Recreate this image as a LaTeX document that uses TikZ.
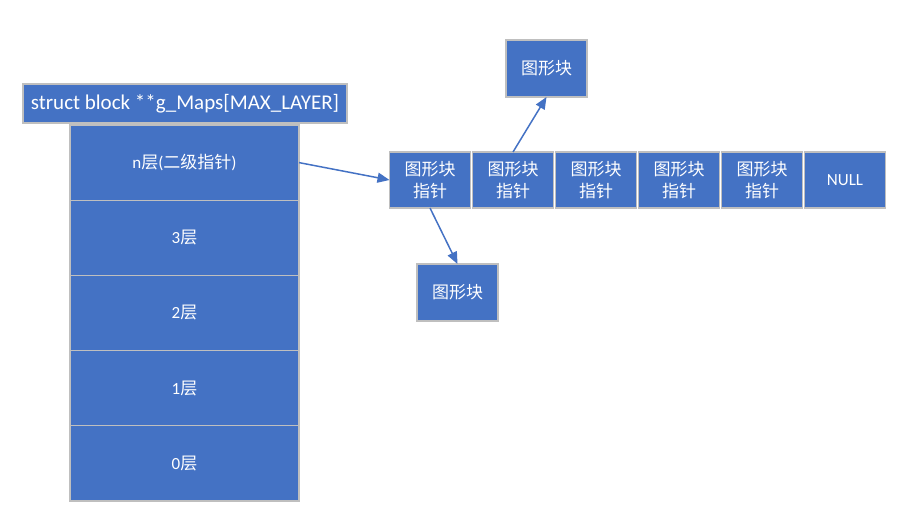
\documentclass[tikz,border=0pt]{standalone}
\usepackage{fontspec}
\setmainfont{Carlito}
\newfontfamily\cjk{Noto Sans CJK SC}
\usepackage{xcolor}
\usepackage{tikz}
\usetikzlibrary{arrows.meta, positioning}

\definecolor{blockblue}{HTML}{4472C4}
\definecolor{edgegray}{HTML}{BFBFBF}

\begin{document}
\begin{tikzpicture}[
    x=1pt, y=-1pt,
    node distance=2pt,
    cell/.style={rectangle, draw=edgegray, line width=1.3pt, outer sep=0pt, fill=blockblue, text=white, inner sep=0pt, align=center, font=\fontsize{17}{22}\selectfont},
    layer/.style={cell, minimum width=229pt, minimum height=75.2pt},
    ptr/.style={cell, minimum width=81pt, minimum height=56pt},
    arrow/.style={-{Triangle[length=12pt,width=10pt]}, line width=1.5pt, draw=blockblue}
]
\useasboundingbox (0,0) rectangle (904,530);

% the array of layers
\node[cell, minimum width=324pt, minimum height=39pt, font=\fontsize{21}{24}\selectfont] (maps) at (185,103.5) {struct block **g\_Maps[MAX\_LAYER]};
\node[layer] (ln) at (184.5,162.6) {n{\cjk 层}({\cjk 二级指针})};
\node[layer, below=0pt of ln] (l3) {3{\cjk 层}};
\node[layer, below=0pt of l3] (l2) {2{\cjk 层}};
\node[layer, below=0pt of l2] (l1) {1{\cjk 层}};
\node[layer, below=0pt of l1] (l0) {0{\cjk 层}};

% pointer row
\node[ptr] (p1) at (430,180) {\cjk 图形块\\\cjk 指针};
\node[ptr, right=of p1] (p2) {\cjk 图形块\\\cjk 指针};
\node[ptr, right=of p2] (p3) {\cjk 图形块\\\cjk 指针};
\node[ptr, right=of p3] (p4) {\cjk 图形块\\\cjk 指针};
\node[ptr, right=of p4] (p5) {\cjk 图形块\\\cjk 指针};
\node[ptr, right=of p5] (null) {NULL};

% blocks
\node[ptr, minimum height=57pt] (top) at (546.5,68.5) {\cjk 图形块};
\node[ptr, minimum height=57pt] (bot) at (457.5,292.5) {\cjk 图形块};

\draw[arrow] (ln.east) -- (p1.west);
\draw[arrow] (p1.south) -- (bot.north);
\draw[arrow] (p2.north) -- (top.south);
\end{tikzpicture}
\end{document}
